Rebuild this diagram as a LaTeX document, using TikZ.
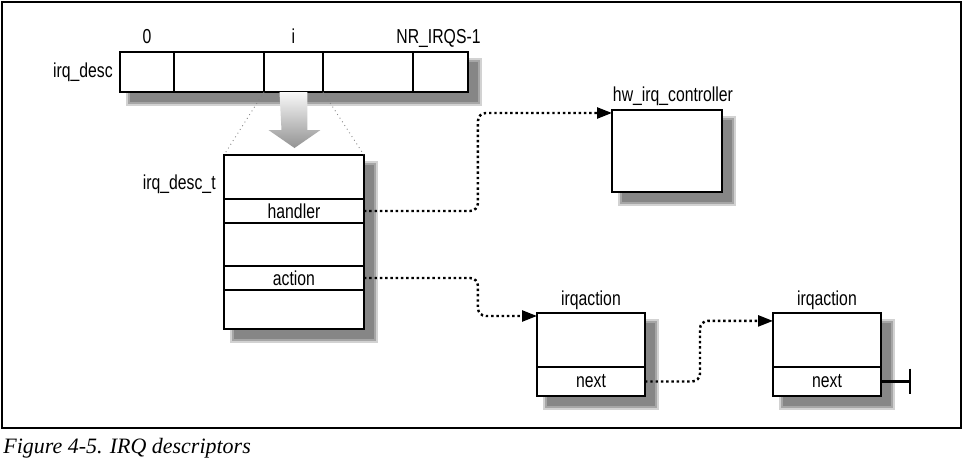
\documentclass[tikz,border=0pt]{standalone}
\usepackage{fontspec}
\setmainfont{Liberation Serif}
\newfontfamily\lblfont[FakeStretch=0.78]{Liberation Sans}
\usetikzlibrary{arrows.meta,calc,backgrounds}

\begin{document}
\begin{tikzpicture}[x=0.02cm, y=-0.02cm, >={Triangle[length=0.3cm,width=0.22cm]},
		font=\lblfont\fontsize{11.5}{13}\selectfont,
		cell/.style={draw, fill=white, line width=1.1pt, inner sep=0pt, outer sep=0pt, anchor=north west, minimum height=0.8cm},
		field/.style={draw, fill=white, line width=0.8pt, inner sep=0pt, outer sep=0pt, anchor=north west, minimum width=2.8cm},
		link/.style={->, dash pattern=on 1.4pt off 1.6pt, line width=1.4pt, rounded corners=4.5pt},
		title/.style={anchor=base, inner sep=0pt}]
		\useasboundingbox (0,0) rectangle (963,468);
		\draw[line width=0.85pt] (2,2) rectangle (961,428);
		% irq_desc array
		\foreach \nm/\xx/\ww in {c0/120/1.08, c1/174/1.8, ci/264/1.18, c3/323/1.8, cn/413/1.1}
			\node[cell, minimum width=\ww cm] (\nm) at (\xx,52) {};
		\node[title] (l0) at ($(c0.north)+(0,-9)$) {0};
		\node[title] (li) at ($(ci.north)+(0,-9)$) {i};
		\node[title] (ln) at ($(cn.north)+(-2,-9)$) {NR\_IRQS-1};
		\node[anchor=east, inner sep=0pt] (ldesc) at ($(c0.west)+(-7,0)$) {irq\_desc};
		% irq_desc_t
		\foreach \nm/\yy/\hh/\txt in {r1/155/0.88/, handler/199/0.48/handler, r3/223/0.86/, action/266/0.48/action, r5/290/0.78/}
			\node[field, minimum height=\hh cm] (\nm) at (224,\yy) {\txt};
		\node[anchor=base east, inner sep=0pt] (ldesct) at ($(handler.north west)+(-8,-10)$) {irq\_desc\_t};
		\draw[gray, dotted, line width=0.5pt] (ci.south west) -- (r1.north west);
		\draw[gray, dotted, line width=0.5pt] (ci.south east) -- (r1.north east);
		\shade[top color=gray!5, bottom color=gray!85] ($(ci.south)+(-14,0)$) -- ++(28,0) -- ++(0,38) -- ++(13,0)
			-- ++(-26,18) -- ++(-26,-18) -- ++(13,0) -- cycle;
		% controller and irqaction list
		\node[field, minimum width=2.2cm, minimum height=1.64cm] (ctrl) at (612,110) {};
		\node[title] (lctrl) at ($(ctrl.north)+(6,-9)$) {hw\_irq\_controller};
		\foreach \nm/\xx in {a1/537, a2/773} {
			\node[field, minimum width=2.16cm, minimum height=1.08cm] (\nm) at (\xx,313) {};
			\node[field, minimum width=2.16cm, minimum height=0.58cm] (\nm next) at (\xx,367) {next};
			\node[title] (l\nm) at ($(\nm.north)+(0,-8)$) {irqaction};
		}
		\draw[link] (handler.east) -- ++(114,0) |- ([yshift=-1.7pt]ctrl.north west);
		\draw[link] (action.east) -- ++(114,0) |- ([yshift=-1.7pt]a1.north west);
		\draw[link] (a1next.east) -- ++(55,0) |- ([yshift=-4.5pt]a2.north west);
		\draw[line width=1.3pt] (a2next.east) -- ++(29,0) coordinate (nil);
		\draw[line width=1.3pt] ($(nil)+(0,-13)$) -- ($(nil)+(0,12)$);
		% shadows
		\begin{scope}[on background layer]
			\fill[white] (0,0) rectangle (963,468);
			\foreach \a/\b in {c0/cn, r1/r5, ctrl/ctrl, a1/a1next, a2/a2next} {
				\fill[gray!35] ($(\a.north west)+(6,6)$) rectangle ($(\b.south east)+(14,14)$);
				\fill[gray!70] ($(\a.north west)+(8,8)$) rectangle ($(\b.south east)+(12,12)$);
				\fill[gray!95] ($(\a.north west)+(10,10)$) rectangle ($(\b.south east)+(10,10)$);
			}
		\end{scope}
		\node[anchor=base west, inner sep=0pt, font=\rmfamily\itshape\fontsize{12.5}{15}\selectfont] (cap) at (3,453) {Figure 4-5. IRQ descriptors};
	\end{tikzpicture}
\end{document}
